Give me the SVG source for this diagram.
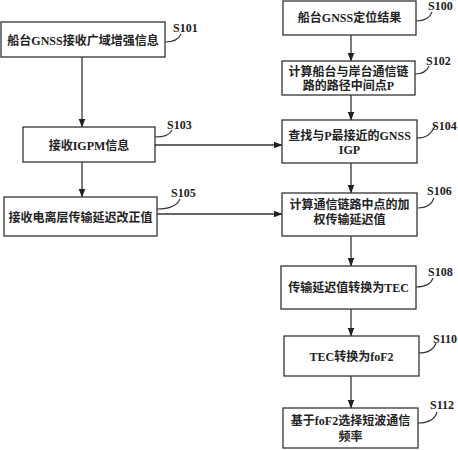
<svg xmlns="http://www.w3.org/2000/svg" width="458" height="450" viewBox="0 0 458 450">
<style>
.box{fill:#fff;stroke:#333;stroke-width:1.3}
.t{font-family:"Liberation Serif","Noto Sans CJK SC",serif;font-size:12px;font-weight:bold;fill:#222;text-anchor:middle}
.lb{font-family:"Liberation Serif",serif;font-size:12px;font-weight:bold;fill:#222}
.ld{fill:none;stroke:#333;stroke-width:1.1}
.c{fill:none;stroke:#333;stroke-width:1.3;marker-end:url(#ah)}
</style>
<defs>
<marker id="ah" markerWidth="9" markerHeight="8" refX="8.5" refY="4" orient="auto" markerUnits="userSpaceOnUse">
<path d="M0,0.5 L9,4 L0,7.5 Z" fill="#222"/>
</marker>
</defs>
<rect width="458" height="450" fill="#fff"/>
<g id="connectors">
<line class="c" x1="351" y1="35" x2="351" y2="61"/>
<line class="c" x1="351" y1="95" x2="351" y2="120"/>
<line class="c" x1="351" y1="163" x2="351" y2="193"/>
<line class="c" x1="351" y1="236" x2="351" y2="266"/>
<line class="c" x1="351" y1="309" x2="351" y2="336"/>
<line class="c" x1="351" y1="376" x2="351" y2="408"/>
<line class="c" x1="82" y1="57" x2="82" y2="127"/>
<line class="c" x1="82" y1="162" x2="82" y2="197"/>
<line class="c" x1="155" y1="145" x2="282" y2="145"/>
<line class="c" x1="157" y1="214" x2="282" y2="214"/>
</g>
<g id="S100">
<rect class="box" x="283" y="1" width="133" height="34"/>
<text class="t" x="349.5" y="22">船台GNSS定位结果</text>
<path class="ld" d="M416,21 C424,21 430,18 432,12"/>
<text class="lb" x="428" y="10">S100</text>
</g>
<g id="S101">
<rect class="box" x="1" y="22" width="164" height="35"/>
<text class="t" x="83" y="44.5">船台GNSS接收广域增强信息</text>
<path class="ld" d="M165,42 C173,42 179,39 181,34"/>
<text class="lb" x="173" y="32">S101</text>
</g>
<g id="S102">
<rect class="box" x="282" y="61" width="133" height="34"/>
<text class="t" x="348.5" y="75.5">计算船台与岸台通信链</text>
<text class="t" x="348.5" y="89.5">路的路径中间点P</text>
<path class="ld" d="M415,74 C422,74 427,71 429,66"/>
<text class="lb" x="426" y="65">S102</text>
</g>
<g id="S103">
<rect class="box" x="23" y="127" width="132" height="35"/>
<text class="t" x="89" y="150">接收IGPM信息</text>
<path class="ld" d="M155,137 C164,137 170,135 172,130"/>
<text class="lb" x="167" y="129">S103</text>
</g>
<g id="S104">
<rect class="box" x="282" y="120" width="135" height="43"/>
<text class="t" x="349.5" y="139.5">查找与P最接近的GNSS</text>
<text class="t" x="349.5" y="153.5">IGP</text>
<path class="ld" d="M417,138 C427,138 431,134 435,126"/>
<text class="lb" x="432" y="130">S104</text>
</g>
<g id="S105">
<rect class="box" x="4" y="197" width="153" height="39"/>
<text class="t" x="80.5" y="221.5">接收电离层传输延迟改正值</text>
<path class="ld" d="M157,209 C170,209 177,206 180,199"/>
<text class="lb" x="171" y="197">S105</text>
</g>
<g id="S106">
<rect class="box" x="282" y="193" width="135" height="43"/>
<text class="t" x="349.5" y="209">计算通信链路中点的加</text>
<text class="t" x="349.5" y="224">权传输延迟值</text>
<path class="ld" d="M418,208 C427,208 432,204 434,198"/>
<text class="lb" x="427" y="195">S106</text>
</g>
<g id="S108">
<rect class="box" x="281" y="266" width="135" height="43"/>
<text class="t" x="348.5" y="292">传输延迟值转换为TEC</text>
<path class="ld" d="M416,287 C426,287 431,284 433,278"/>
<text class="lb" x="428" y="276">S108</text>
</g>
<g id="S110">
<rect class="box" x="284" y="336" width="135" height="40"/>
<text class="t" x="351.5" y="361">TEC转换为foF2</text>
<path class="ld" d="M419,353 C429,353 434,349 436,343"/>
<text class="lb" x="433" y="343">S110</text>
</g>
<g id="S112">
<rect class="box" x="283" y="408" width="135" height="40"/>
<text class="t" x="350.5" y="424.5">基于foF2选择短波通信</text>
<text class="t" x="350.5" y="441">频率</text>
<path class="ld" d="M418,423 C429,423 435,419 437,412"/>
<text class="lb" x="430" y="409">S112</text>
</g>
</svg>
